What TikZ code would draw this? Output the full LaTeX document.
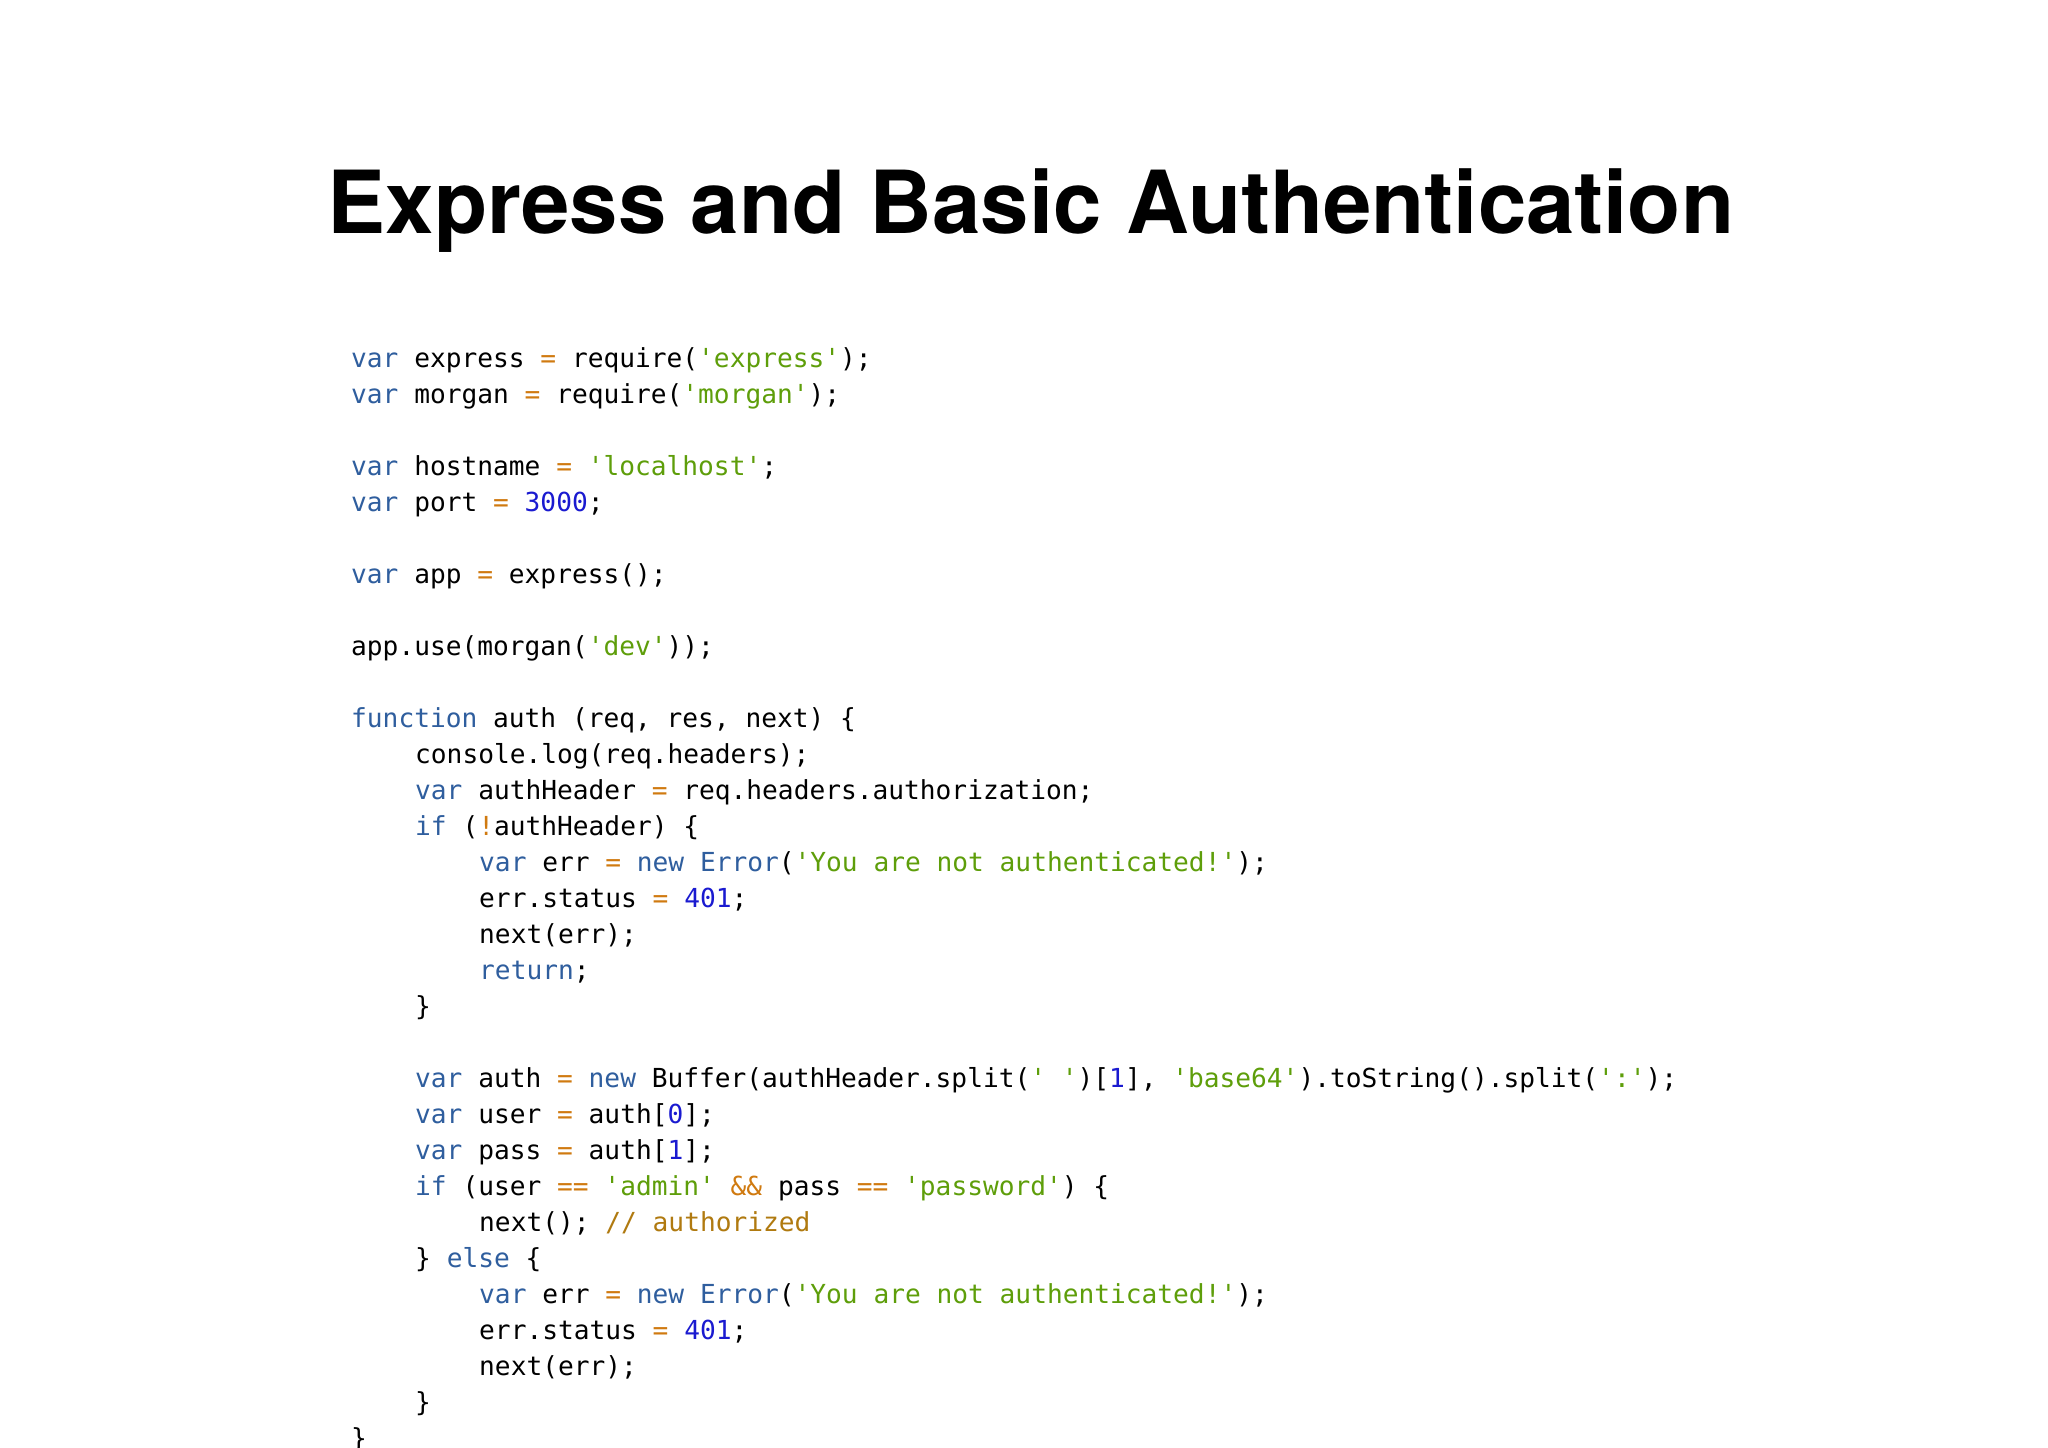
\documentclass[tikz,border=0pt]{standalone}
\usepackage{fontspec}
\setmainfont{TeX Gyre Heros}
\setmonofont{DejaVu Sans Mono}
\definecolor{kw}{HTML}{2F5E9E}
\definecolor{st}{HTML}{5E9E0A}
\definecolor{nm}{HTML}{1A1AD0}
\definecolor{op}{HTML}{D07A10}
\definecolor{cm}{HTML}{B07A10}
\newcommand{\kw}[1]{\textcolor{kw}{#1}}
\newcommand{\st}[1]{\textcolor{st}{#1}}
\newcommand{\nm}[1]{\textcolor{nm}{#1}}
\newcommand{\op}[1]{\textcolor{op}{#1}}
\newcommand{\cm}[1]{\textcolor{cm}{#1}}
\tikzset{codeline/.style={anchor=base west,inner sep=0pt,font=\ttfamily\fontsize{26.2}{30}\selectfont,text=black}}
\begin{document}
\begin{tikzpicture}[x=1pt,y=-1pt]
\useasboundingbox[fill=white] (0,0) rectangle (2048,1448);
\node[inner sep=0pt,font=\bfseries\fontsize{87}{96}\selectfont] (title) at (1031,211) {Express and Basic Authentication};
\def\L#1#2#3{\node[codeline] (l#1) at ({351+64*#2},{367+36.0*#1}) {#3};}
\L{0}{0}{\kw{var} express \op{=} require(\st{'express'});}
\L{1}{0}{\kw{var} morgan \op{=} require(\st{'morgan'});}
\L{3}{0}{\kw{var} hostname \op{=} \st{'localhost'};}
\L{4}{0}{\kw{var} port \op{=} \nm{3000};}
\L{6}{0}{\kw{var} app \op{=} express();}
\L{8}{0}{app.use(morgan(\st{'dev'}));}
\L{10}{0}{\kw{function} auth (req, res, next) \{}
\L{11}{1}{console.log(req.headers);}
\L{12}{1}{\kw{var} authHeader \op{=} req.headers.authorization;}
\L{13}{1}{\kw{if} (\op{!}authHeader) \{}
\L{14}{2}{\kw{var} err \op{=} \kw{new} \kw{Error}(\st{'You are not authenticated!'});}
\L{15}{2}{err.status \op{=} \nm{401};}
\L{16}{2}{next(err);}
\L{17}{2}{\kw{return};}
\L{18}{1}{\}}
\L{20}{1}{\kw{var} auth \op{=} \kw{new} Buffer(authHeader.split(\st{' '})[\nm{1}], \st{'base64'}).toString().split(\st{':'});}
\L{21}{1}{\kw{var} user \op{=} auth[\nm{0}];}
\L{22}{1}{\kw{var} pass \op{=} auth[\nm{1}];}
\L{23}{1}{\kw{if} (user \op{==} \st{'admin'} \op{\&\&} pass \op{==} \st{'password'}) \{}
\L{24}{2}{next(); \cm{// authorized}}
\L{25}{1}{\} \kw{else} \{}
\L{26}{2}{\kw{var} err \op{=} \kw{new} \kw{Error}(\st{'You are not authenticated!'});}
\L{27}{2}{err.status \op{=} \nm{401};}
\L{28}{2}{next(err);}
\L{29}{1}{\}}
\L{30}{0}{\}}
\end{tikzpicture}
\end{document}
